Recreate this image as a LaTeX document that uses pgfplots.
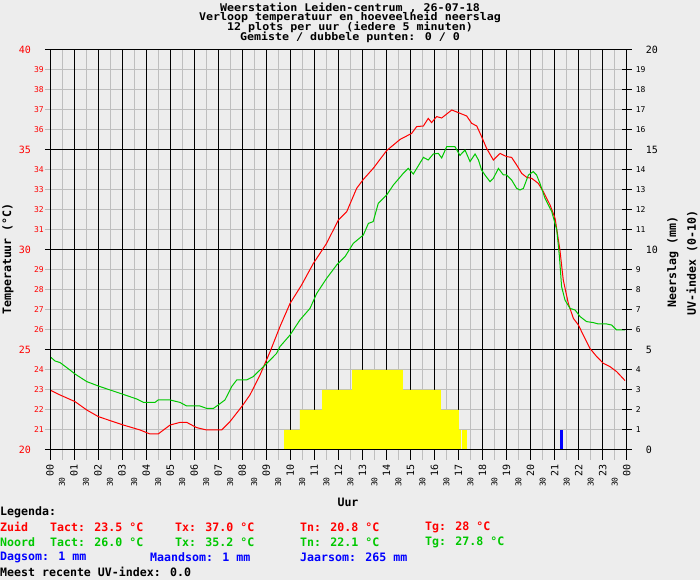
\documentclass[border=0pt]{standalone}
\usepackage{pgfplots}
\pgfplotsset{compat=1.18}
\usepackage{fontspec}
\newfontfamily\mono{DejaVu Sans Mono}
\newfontfamily\monot[FakeStretch=1.1]{DejaVu Sans Mono}
\definecolor{bg}{HTML}{EDEDED}
\definecolor{gridgray}{HTML}{BEBEBE}
\definecolor{zred}{HTML}{FF0000}
\definecolor{ngreen}{HTML}{00C800}
\definecolor{ublue}{HTML}{0000FF}
\definecolor{uvyellow}{HTML}{FFFF00}
\newcommand{\fbig}{\mono\fontsize{10bp}{10bp}\selectfont}
\newcommand{\fsmall}{\mono\fontsize{8bp}{8bp}\selectfont}
\newcommand{\fbold}{\mono\bfseries\fontsize{11.6bp}{10bp}\selectfont}
\newcommand{\ftitle}{\monot\bfseries\fontsize{10.6bp}{10bp}\selectfont}
\begin{document}
\begin{tikzpicture}[x=1bp,y=1bp]
\useasboundingbox (0,0) rectangle (700,580);
\fill[bg] (0,0) rectangle (700,580);
\begin{axis}[
  at={(50bp,130bp)}, anchor=south west, scale only axis,
  width=576.7bp, height=400bp,
  xmin=0, xmax=24, ymin=20, ymax=40,
  axis line style={black, line width=1bp},
  tick align=outside, ytick align=center, major tick length=10bp,
  xtick pos=bottom, ytick pos=left,
  grid=major, major grid style={gridgray, line width=1bp},
  major tick style={gridgray, line width=1bp},
  xtick={0.5,1.5,...,23.5},
  xticklabels={30,30,30,30,30,30,30,30,30,30,30,30,30,30,30,30,30,30,30,30,30,30,30,30},
  xticklabel style={font=\fsmall, rotate=90, anchor=east, inner sep=0pt, xshift=-17bp},
  ytick={21,22,23,24,26,27,28,29,31,32,33,34,36,37,38,39},
  yticklabels={21,22,23,24,26,27,28,29,31,32,33,34,36,37,38,39},
  yticklabel style={font=\fsmall, text=zred, anchor=east, inner sep=0pt, xshift=-1bp},
  extra x ticks={0,1,...,24},
  extra x tick labels={00,01,02,03,04,05,06,07,08,09,10,11,12,13,14,15,16,17,18,19,20,21,22,23,00},
  extra x tick style={grid=major, major grid style={black, line width=1bp},
    major tick style={black, line width=1bp},
    xticklabel style={font=\fbig, xshift=13bp}},
  extra y ticks={20,25,30,35,40},
  extra y tick labels={20,25,30,35,40},
  extra y tick style={grid=major, major grid style={black, line width=1bp},
    major tick style={black, line width=1bp},
    yticklabel style={font=\fbig, xshift=-13bp}},
]
% Zuid (red)
\addplot[zred, line width=1bp] coordinates {
(0,23.0)(0.42,22.75)(1.04,22.42)(1.53,22.0)(2.01,21.67)(2.5,21.47)(3.05,21.25)
(3.75,21.0)(4.16,20.8)(4.5,20.8)(5.0,21.25)(5.41,21.38)(5.69,21.38)(6.1,21.12)
(6.52,21.0)(7.14,21.0)(7.49,21.42)(7.98,22.17)(8.32,22.75)(8.74,23.75)(9.16,24.92)
(9.57,26.17)(9.99,27.33)(10.47,28.25)(10.96,29.33)(11.51,30.33)(12.0,31.5)(12.35,31.92)
(12.76,33.08)(13.04,33.53)(13.45,34.08)(14.01,34.97)(14.57,35.53)(15.05,35.83)
(15.26,36.17)(15.54,36.2)(15.74,36.58)(15.88,36.37)(16.09,36.67)(16.3,36.6)
(16.51,36.8)(16.72,37.0)(16.99,36.87)(17.34,36.7)(17.55,36.33)(17.76,36.2)
(17.96,35.67)(18.17,35.08)(18.45,34.5)(18.73,34.83)(19.0,34.67)(19.21,34.63)
(19.42,34.25)(19.63,33.83)(19.84,33.63)(20.05,33.58)(20.32,33.33)(20.53,32.92)
(20.81,32.25)(21.02,31.58)(21.22,30.0)(21.36,28.5)(21.57,27.33)(21.78,26.58)
(21.99,26.25)(22.19,25.75)(22.47,25.08)(22.75,24.67)(23.03,24.33)(23.3,24.17)
(23.58,23.92)(23.93,23.47)
};
% Noord (green)
\addplot[ngreen, line width=1bp] coordinates {
(0,24.67)(0.21,24.45)(0.42,24.37)(0.83,24.0)(1.04,23.8)(1.53,23.42)(2.01,23.2)
(2.5,23.0)(3.05,22.78)(3.61,22.55)(3.89,22.38)(4.37,22.38)(4.5,22.5)(5.0,22.5)
(5.41,22.38)(5.69,22.2)(6.24,22.2)(6.52,22.08)(6.8,22.08)(7.0,22.25)(7.28,22.5)
(7.56,23.17)(7.77,23.5)(8.18,23.5)(8.46,23.67)(8.67,23.92)(9.02,24.33)(9.43,24.83)
(9.57,25.17)(9.99,25.75)(10.40,26.5)(10.82,27.08)(11.1,27.83)(11.51,28.58)
(11.93,29.25)(12.28,29.67)(12.62,30.33)(13.04,30.75)(13.25,31.33)(13.45,31.42)
(13.66,32.33)(14.01,32.75)(14.29,33.25)(14.7,33.83)(14.91,34.08)(15.12,33.8)
(15.54,34.63)(15.74,34.5)(15.95,34.8)(16.16,34.83)(16.3,34.6)(16.51,35.17)
(16.72,35.17)(16.85,35.17)(17.06,34.73)(17.27,35.0)(17.48,34.42)(17.69,34.8)
(17.83,34.5)(17.96,34.0)(18.1,33.75)(18.31,33.42)(18.45,33.58)(18.66,34.08)
(18.87,33.75)(19.0,33.75)(19.21,33.5)(19.42,33.08)(19.56,33.0)(19.7,33.08)
(19.91,33.75)(20.11,33.92)(20.25,33.75)(20.39,33.33)(20.6,32.58)(20.88,31.92)
(21.09,31.0)(21.2,29.67)(21.29,28.17)(21.43,27.5)(21.64,27.08)(21.85,27.0)
(22.06,26.67)(22.33,26.42)(22.61,26.37)(22.82,26.3)(23.17,26.3)(23.37,26.25)
(23.58,26.0)(23.93,26.0)
};
\end{axis}
\begin{axis}[
  at={(50bp,130bp)}, anchor=south west, scale only axis,
  width=576.7bp, height=400bp,
  xmin=0, xmax=24, ymin=0, ymax=20,
  axis on top,
  axis line style={black, line width=1bp},
  tick align=center, major tick length=10bp,
  xtick=\empty,
  ytick pos=right, yticklabel pos=right,
  major tick style={black, line width=1bp},
  ytick={1,2,3,4,6,7,8,9,11,12,13,14,16,17,18,19},
  yticklabels={1,2,3,4,6,7,8,9,11,12,13,14,16,17,18,19},
  yticklabel style={font=\fsmall, anchor=west, inner sep=0pt, xshift=4bp},
  extra y ticks={0,5,10,15,20},
  extra y tick labels={0,5,10,15,20},
  extra y tick style={yticklabel style={font=\fbig, xshift=10bp}},
]
% UV-index (yellow)
\addplot[fill=uvyellow, draw=none] coordinates {
(9.74,0)(9.74,1)(10.40,1)(10.40,2)(11.32,2)(11.32,3)(12.57,3)(12.57,4)
(14.69,4)(14.69,3)(16.27,3)(16.27,2)(17.02,2)(17.02,1)(17.10,1)(17.10,0)
};
\addplot[fill=uvyellow, draw=none] coordinates {
(17.15,0)(17.15,1)(17.35,1)(17.35,0)
};
% Neerslag (blue)
\addplot[fill=ublue, draw=none] coordinates {
(21.22,0)(21.22,1)(21.35,1)(21.35,0)
};
\end{axis}
\node[font=\ftitle, inner sep=0pt] at (350,572.5) {Weerstation Leiden-centrum , 26-07-18};
\node[font=\ftitle, inner sep=0pt] at (350,562.7) {Verloop temperatuur en hoeveelheid neerslag};
\node[font=\ftitle, inner sep=0pt] at (350,553) {12 plots per uur (iedere 5 minuten)};
\node[font=\ftitle, inner sep=0pt] at (350,543) {Gemiste / dubbele punten: 0 / 0};
\node[font=\fbold, rotate=90] at (8,321) {Temperatuur (°C)};
\node[font=\fbold, rotate=90] at (673,318) {Neerslag (mm)};
\node[font=\fbold, rotate=90] at (692,317) {UV-index (0-10)};
\node[font=\fbold] at (348,78) {Uur};
\node[font=\fbold, anchor=west, inner sep=0pt] at (0,68) {Legenda:};
\node[font=\fbold, anchor=west, inner sep=0pt, text=zred] at (0,53) {Zuid};
\node[font=\fbold, anchor=west, inner sep=0pt, text=zred] at (50,53) {Tact: 23.5 °C};
\node[font=\fbold, anchor=west, inner sep=0pt, text=zred] at (175,53) {Tx: 37.0 °C};
\node[font=\fbold, anchor=west, inner sep=0pt, text=zred] at (300,53) {Tn: 20.8 °C};
\node[font=\fbold, anchor=west, inner sep=0pt, text=zred] at (425,53) {Tg: 28 °C};
\node[font=\fbold, anchor=west, inner sep=0pt, text=ngreen] at (0,38) {Noord};
\node[font=\fbold, anchor=west, inner sep=0pt, text=ngreen] at (50,38) {Tact: 26.0 °C};
\node[font=\fbold, anchor=west, inner sep=0pt, text=ngreen] at (175,38) {Tx: 35.2 °C};
\node[font=\fbold, anchor=west, inner sep=0pt, text=ngreen] at (300,38) {Tn: 22.1 °C};
\node[font=\fbold, anchor=west, inner sep=0pt, text=ngreen] at (425,38) {Tg: 27.8 °C};
\node[font=\fbold, anchor=west, inner sep=0pt, text=ublue] at (0,23) {Dagsom: 1 mm};
\node[font=\fbold, anchor=west, inner sep=0pt, text=ublue] at (150,23) {Maandsom: 1 mm};
\node[font=\fbold, anchor=west, inner sep=0pt, text=ublue] at (300,23) {Jaarsom: 265 mm};
\node[font=\fbold, anchor=west, inner sep=0pt] at (0,8) {Meest recente UV-index: 0.0};
\end{tikzpicture}
\end{document}
